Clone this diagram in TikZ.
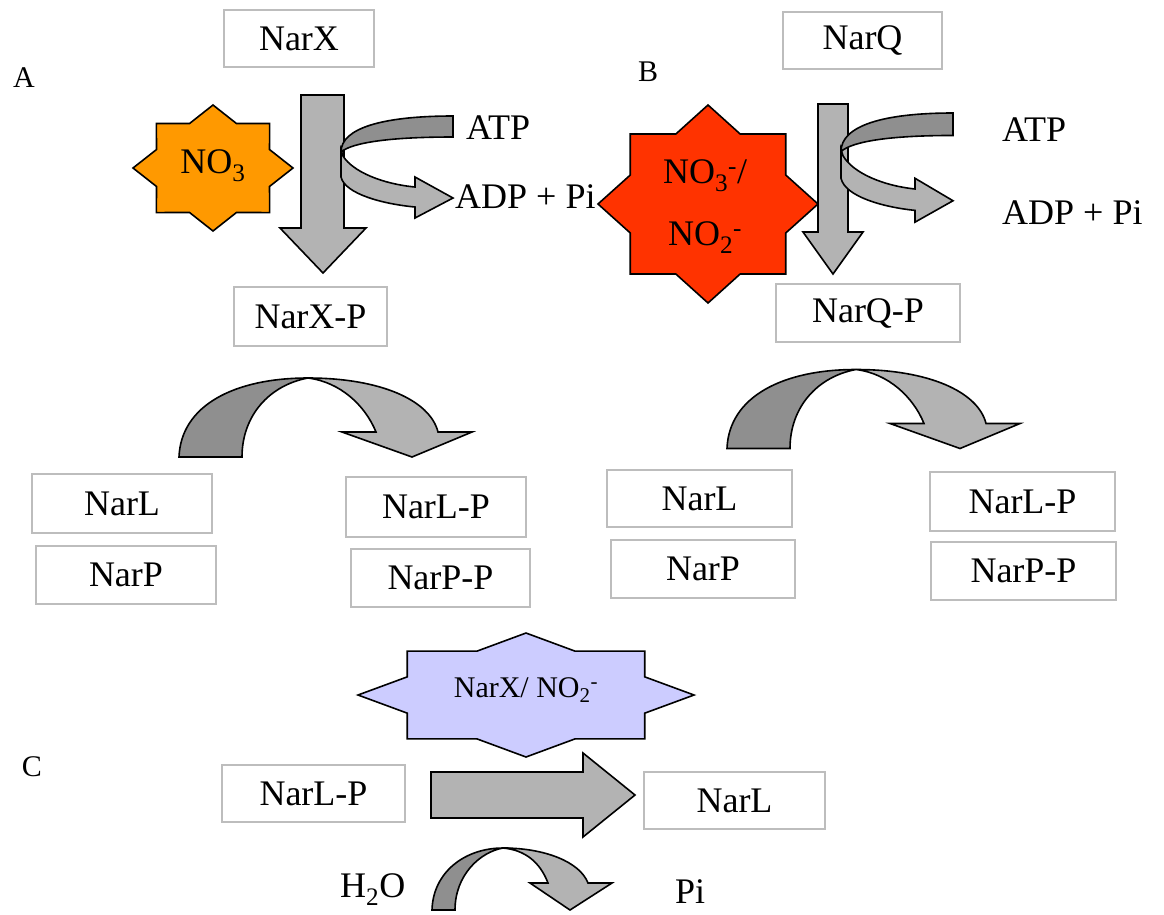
\documentclass[tikz,border=0pt]{standalone}
\usepackage{fontspec}
\setmainfont{Liberation Serif}
\usetikzlibrary{arrows,arrows.meta}

\definecolor{narorange}{HTML}{FF9900}
\definecolor{narred}{HTML}{FF3300}
\definecolor{narlilac}{HTML}{CCCCFF}
\definecolor{frontgray}{HTML}{B3B3B3}
\definecolor{backgray}{HTML}{8F8F8F}
\definecolor{boxgray}{HTML}{BDBDBD}

% eight-pointed burst: centre, x radius, y radius, fill colour
\newcommand{\burst}[4]{%
  \filldraw[outline, fill=#4, shift={(#1)}] (0:#2 and #3)
    \foreach \k [evaluate=\k as \rad using {1-0.235*mod(\k,2)}] in {1,...,15}
      {-- ({\k*22.5}:{\rad*#2} and {\rad*#3})} -- cycle;}

\begin{document}
\begin{tikzpicture}[x=1pt, y=-1pt,
font=\fontsize{36}{42}\selectfont,
box/.style={draw=boxgray, line width=1.5pt, inner sep=0pt, minimum width=182, minimum height=58},
lbl/.style={inner sep=0pt},
tag/.style={inner sep=0pt, font=\fontsize{30}{36}\selectfont},
outline/.style={draw=black, line width=1.6pt, line join=miter},
atpturn/.pic={
  \filldraw[outline, fill=frontgray] (-112,34) -- (-112,61) .. controls (-108,78) and (-70,88) .. (-38,91)
    -- (-38,102) -- (0,82) -- (-38,61) -- (-38,71) .. controls (-70,68) and (-100,56) .. (-110,40) -- cycle;
  \filldraw[outline, fill=backgray] (0,0) .. controls (-70,0) and (-112,12) .. (-112,36)
    .. controls (-100,26) and (-60,21) .. (0,21) -- cycle;
},
flip/.pic={
  \filldraw[outline, fill=backgray] (0,0) .. controls (2,-52) and (56,-79) .. (129,-79)
    .. controls (91,-72) and (63,-42) .. (63,0) -- cycle;
  \filldraw[outline, fill=frontgray] (129,-79) .. controls (201,-79) and (251,-57) .. (259,-25)
    -- (293,-25) -- (233,0) -- (163,-25) -- (197,-25) .. controls (186,-52) and (161,-75) .. (129,-79) -- cycle;
}]
\useasboundingbox (0,0) rectangle (1164,914);

% A
\node[tag] (labA) at (24,78) {A};
\node[box, minimum width=150, minimum height=57] (narx) at (299,38.5) {NarX};
\burst{213,168}{80}{63}{narorange}
\node[lbl] (no3) at (213,166) {NO\textsubscript{3}};
\filldraw[outline, fill=frontgray] (301,95) -- (344,95) -- (344,228) -- (366,228) -- (323,273) -- (280,228) -- (301,228) -- cycle;
\pic at (453,116) {atpturn};
\node[lbl, anchor=west] (atpA) at (466,128) {ATP};
\node[lbl, anchor=west] (adpA) at (455,197) {ADP + Pi};
\node[box, minimum width=153, minimum height=59] (narxp) at (310.5,316.5) {NarX-P};

\pic at (179,457) {flip};
\node[box, minimum width=180, minimum height=59] (narlA) at (122,503.5) {NarL};
\node[box, minimum width=180] (narpA) at (126,575) {NarP};
\node[box, minimum width=180, minimum height=60] (narlpA) at (436,507) {NarL-P};
\node[box, minimum width=179] (narppA) at (440.5,578) {NarP-P};

% B
\node[tag] (labB) at (648,72) {B};
\node[box, minimum width=159, minimum height=57] (narq) at (862.5,40.5) {NarQ};
\burst{708,204}{110}{99}{narred}
\node[lbl, align=center, font=\fontsize{36}{62}\selectfont] (no3no2) at (705,207)
  {NO\textsubscript{3}\textsuperscript{-}/\\NO\textsubscript{2}\textsuperscript{-}};
\filldraw[outline, fill=frontgray] (818,104) -- (848,104) -- (848,232) -- (863,232) -- (833,274) -- (803,232) -- (818,232) -- cycle;
\pic[yscale=1.07] at (953,113) {atpturn};
\node[lbl, anchor=west] (atpB) at (1002,130) {ATP};
\node[lbl, anchor=west] (adpB) at (1002,213) {ADP + Pi};
\node[box, minimum width=184] (narqp) at (868,313) {NarQ-P};

\pic at (727,448.5) {flip};
\node[box, minimum width=185, minimum height=57] (narlB) at (699.5,498.5) {NarL};
\node[box, minimum width=184] (narpB) at (703,569) {NarP};
\node[box, minimum width=185, minimum height=59] (narlpB) at (1022.5,501.5) {NarL-P};
\node[box, minimum width=185] (narppB) at (1023.5,571) {NarP-P};

% C
\node[tag] (labC) at (32,767) {C};
\burst{526,695}{168}{62}{narlilac}
\node[lbl, font=\fontsize{30}{36}\selectfont] (narxno2) at (526,690) {NarX/ NO\textsubscript{2}\textsuperscript{-}};
\node[box, minimum width=183, minimum height=57] (narlpC) at (313.5,793.5) {NarL-P};
\node[box, minimum width=181, minimum height=57] (narlC) at (734.5,800.5) {NarL};
\filldraw[outline, fill=frontgray] (431,772) -- (583,772) -- (583,753) -- (635,795) -- (583,837) -- (583,818) -- (431,818) -- cycle;

\filldraw[outline, fill=backgray] (432,910) .. controls (433,872) and (465,848) .. (503,848)
  .. controls (480,852) and (455,875) .. (455,910) -- cycle;
\filldraw[outline, fill=frontgray] (503,848) .. controls (545,848) and (580,862) .. (588,883)
  -- (612,883) -- (570,910) -- (530,883) -- (548,883) .. controls (540,862) and (525,850) .. (503,848) -- cycle;
\node[lbl, anchor=west] (h2o) at (340,890) {H\textsubscript{2}O};
\node[lbl, anchor=west] (pi) at (675,892) {Pi};
\end{tikzpicture}
\end{document}
